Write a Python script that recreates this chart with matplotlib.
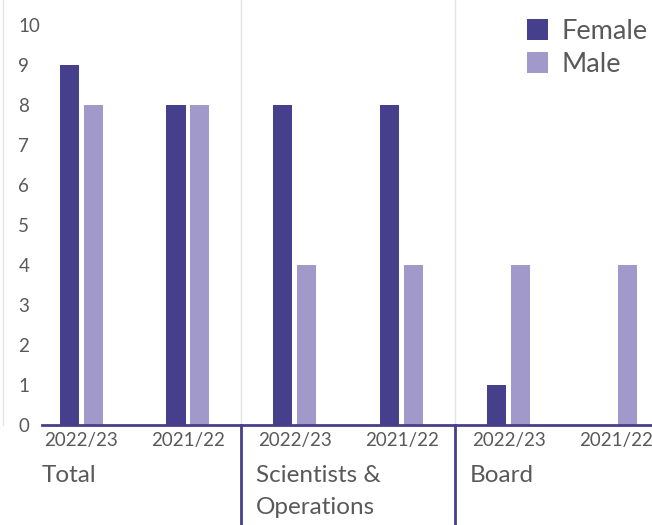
import matplotlib.pyplot as plt
import numpy as np

# data
years = ["2022/23", "2021/22", "2022/23", "2021/22", "2022/23", "2021/22"]
groups = ["Total", "Scientists &\nOperations", "Board"]
female = [9, 8, 8, 8, 1, 0]
male = [8, 8, 4, 4, 4, 4]

c_female = "#463F8C"
c_male = "#A199C9"
c_text = "#595959"

plt.rcParams['font.family'] = ['Lato', 'DejaVu Sans']

fig = plt.figure(figsize=(6.52, 5.25), dpi=100)
ax = fig.add_axes([3 / 652, 100 / 525, 649 / 652, 425 / 525])

x = np.arange(len(years))
w = 0.178
ax.bar(x - 0.112, female, w, color=c_female, label="Female")
ax.bar(x + 0.112, male, w, color=c_male, label="Male")

ax.set_xlim(-0.73, 5.34)
ax.set_ylim(0, 10.625)

# spines
for s in ["top", "right", "bottom"]:
    ax.spines[s].set_visible(False)
ax.spines["left"].set_color("#e3e3e3")
ax.spines["left"].set_linewidth(1)

# baseline
ax.plot([-0.365, 5.33], [0, 0], color=c_female, lw=2, clip_on=False, zorder=3)

# group separators
for sep in [1.5, 3.5]:
    ax.plot([sep, sep], [0, 10.625], color="#e3e3e3", lw=1, zorder=0)
    ax.plot([sep, sep], [0, -0.235], color=c_female, lw=2,
            transform=ax.get_xaxis_transform(), clip_on=False)

# y ticks
ax.set_yticks(range(0, 11))
ax.tick_params(axis="y", length=0, pad=-11, labelsize=13.5, labelcolor=c_text)
for lab in ax.get_yticklabels():
    lab.set_horizontalalignment("left")

# x ticks
ax.set_xticks(x)
ax.set_xticklabels(years)
ax.tick_params(axis="x", length=0, pad=5, labelsize=13.5, labelcolor=c_text)

# group labels
for i, g in enumerate(groups):
    ax.text(2 * i - 0.365, -0.095, g, transform=ax.get_xaxis_transform(),
            ha="left", va="top", fontsize=17.5, color=c_text, linespacing=1.6)

ax.legend(loc="upper right", bbox_to_anchor=(1.023, 1.0), frameon=False,
          fontsize=19.5, handlelength=0.8, handleheight=0.8, handletextpad=0.5,
          labelspacing=0.3, borderpad=0.2, labelcolor=c_text)

fig.savefig("out.png", dpi=100)
